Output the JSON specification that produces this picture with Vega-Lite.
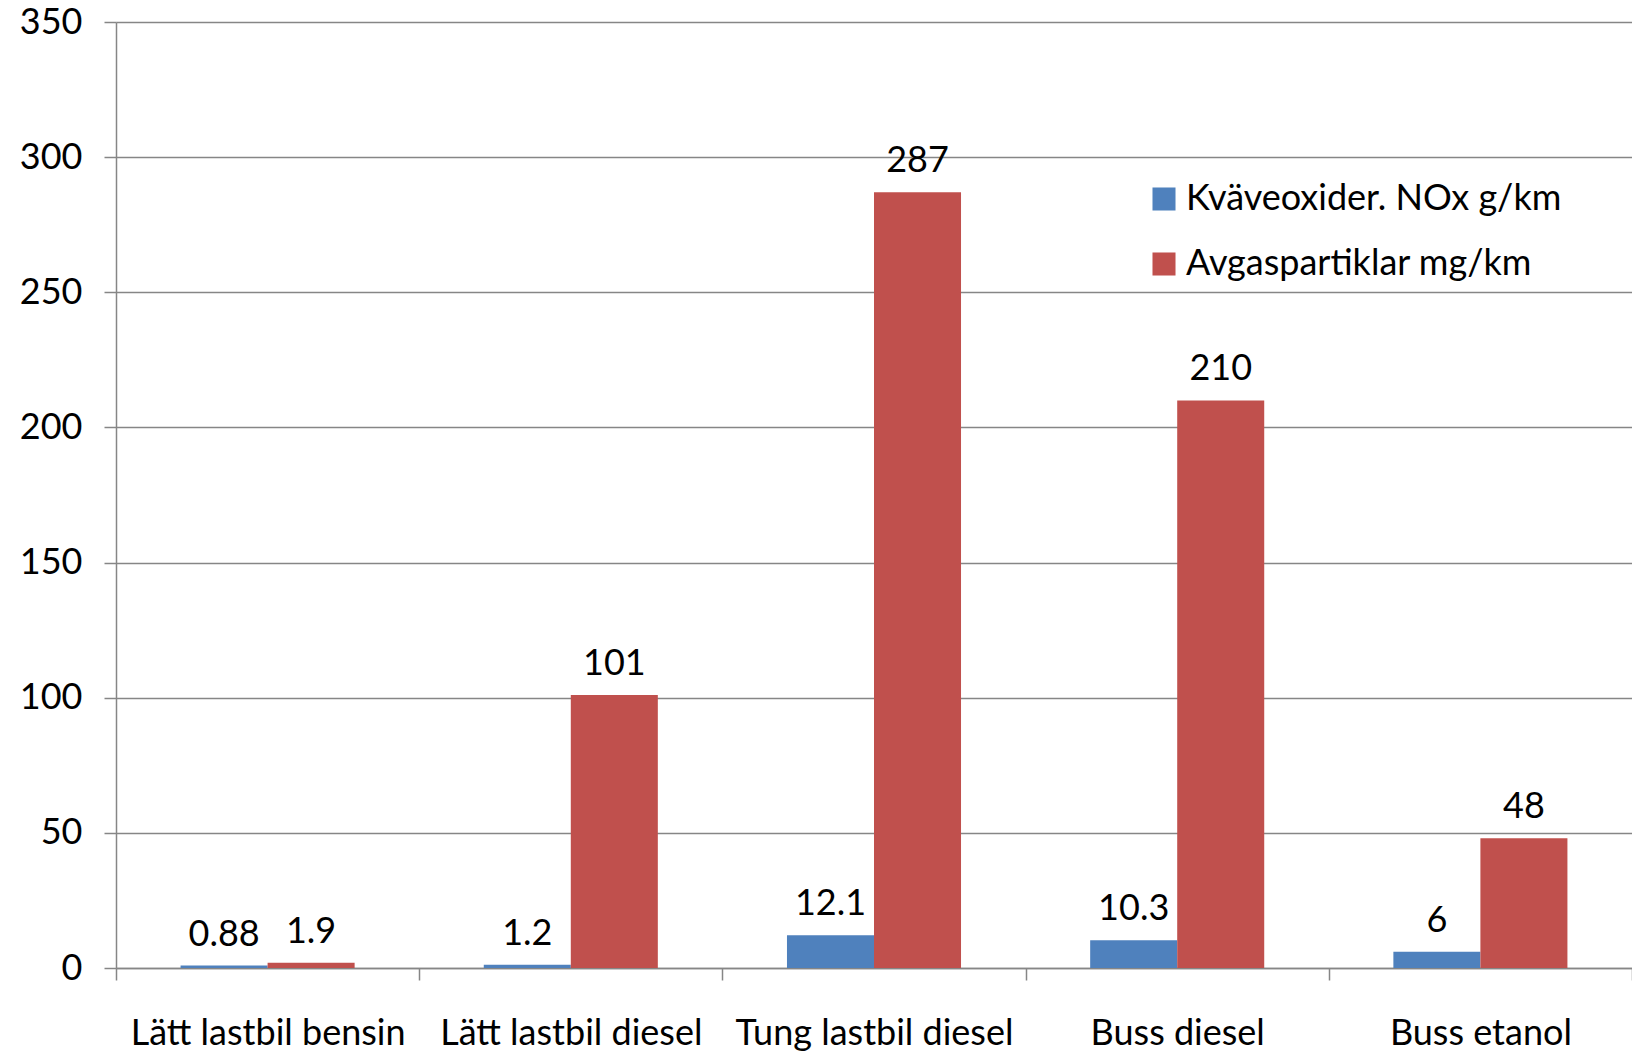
{
  "$schema": "https://vega.github.io/schema/vega-lite/v6.json",
  "width": 1516,
  "height": 946,
  "autosize": {"type": "none"},
  "padding": {"left": 116, "top": 22, "right": 0, "bottom": 93},
  "background": "white",
  "config": {
    "view": {"stroke": null},
    "font": "Lato",
    "axis": {"labelFont": "Lato", "labelColor": "black", "domainColor": "#868686", "tickColor": "#868686", "gridColor": "#868686", "domainWidth": 1.5, "tickWidth": 1.5, "gridWidth": 1.5}
  },
  "data": {
    "values": [
      {"vehicle": "Lätt lastbil bensin", "series": "Kväveoxider. NOx g/km", "value": 0.88},
      {"vehicle": "Lätt lastbil bensin", "series": "Avgaspartiklar mg/km", "value": 1.9},
      {"vehicle": "Lätt lastbil diesel", "series": "Kväveoxider. NOx g/km", "value": 1.2},
      {"vehicle": "Lätt lastbil diesel", "series": "Avgaspartiklar mg/km", "value": 101},
      {"vehicle": "Tung lastbil diesel", "series": "Kväveoxider. NOx g/km", "value": 12.1},
      {"vehicle": "Tung lastbil diesel", "series": "Avgaspartiklar mg/km", "value": 287},
      {"vehicle": "Buss diesel", "series": "Kväveoxider. NOx g/km", "value": 10.3},
      {"vehicle": "Buss diesel", "series": "Avgaspartiklar mg/km", "value": 210},
      {"vehicle": "Buss etanol", "series": "Kväveoxider. NOx g/km", "value": 6},
      {"vehicle": "Buss etanol", "series": "Avgaspartiklar mg/km", "value": 48}
    ]
  },
  "encoding": {
    "x": {
      "field": "vehicle", "type": "nominal", "sort": null,
      "scale": {"paddingInner": 0, "paddingOuter": 0},
      "axis": {"title": null, "labelAngle": 0, "labelFontSize": 36, "labelLimit": 0, "tickSize": 12, "labelPadding": 36, "tickBand": "extent", "grid": false, "domain": true}
    },
    "xOffset": {
      "field": "series", "type": "nominal",
      "sort": ["Kväveoxider. NOx g/km", "Avgaspartiklar mg/km"],
      "scale": {"paddingInner": 0, "paddingOuter": 0.742}
    },
    "y": {
      "field": "value", "type": "quantitative",
      "scale": {"domain": [0, 350], "nice": false},
      "axis": {"title": null, "values": [0, 50, 100, 150, 200, 250, 300, 350], "labelFontSize": 36, "tickSize": 12, "labelPadding": 22, "grid": true, "domain": true}
    }
  },
  "layer": [
    {
      "mark": {"type": "bar"},
      "encoding": {
        "color": {
          "field": "series", "type": "nominal",
          "sort": ["Kväveoxider. NOx g/km", "Avgaspartiklar mg/km"],
          "scale": {"domain": ["Kväveoxider. NOx g/km", "Avgaspartiklar mg/km"], "range": ["#4F81BD", "#C0504D"]},
          "legend": {
            "title": null, "orient": "none", "legendX": 1030, "legendY": 159,
            "symbolType": "square", "symbolSize": 530, "symbolStrokeWidth": 0,
            "labelFontSize": 36, "labelLimit": 0, "labelColor": "black", "labelOffset": 4, "rowPadding": 29, "labelFont": "Lato"
          }
        }
      }
    },
    {
      "mark": {"type": "text", "baseline": "bottom", "dy": -12, "fontSize": 36, "color": "black"},
      "encoding": {"text": {"field": "value", "type": "quantitative"}}
    }
  ]
}
